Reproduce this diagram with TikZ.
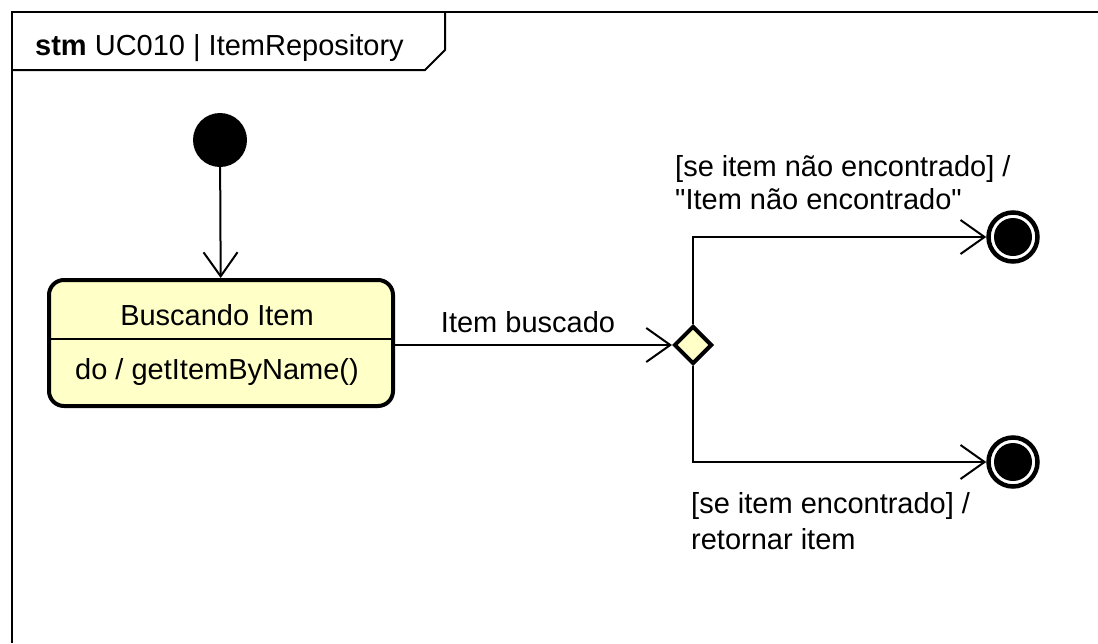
\documentclass[tikz,border=0pt]{standalone}
\usepackage{fontspec}
\setmainfont{Liberation Sans}[Ligatures=TeXOff]
\usetikzlibrary{arrows.meta,shapes.geometric}
\definecolor{stfill}{RGB}{255,255,200}
\begin{document}
\begin{tikzpicture}[x=1pt,y=-1pt,
  lbl/.style={font=\fontsize{29}{35}\selectfont, inner sep=0pt},
  conn/.style={line width=2pt, -{Straight Barb[length=24pt,width=34pt,line width=2pt]}},
  framebox/.style={line width=2pt},
  statebox/.style={draw, line width=4pt, rounded corners=15pt, fill=stfill, minimum width=344pt, minimum height=126pt, inner sep=0pt},
  initstate/.style={circle, fill=black, minimum size=54pt, inner sep=0pt},
  finalstate/.style={circle, draw, line width=4.5pt, fill=white, minimum size=49pt, inner sep=0pt,
     path picture={\fill[black] (path picture bounding box.center) circle (19pt);}},
  decision/.style={diamond, draw, line width=4pt, fill=stfill, minimum width=38pt, minimum height=38pt, inner sep=0pt}]
\useasboundingbox (0,0) rectangle (1098,643);
\fill[white] (0,0) rectangle (1098,643);
% frame
\coordinate (fbl) at (12,643);
\coordinate (ftl) at (12,12);
\coordinate (ftr) at (1098,12);
\draw[framebox] (fbl) -- (ftl) -- (ftr);
\coordinate (tabA) at (12,70);
\coordinate (tabB) at (425,70);
\coordinate (tabC) at (445,50);
\coordinate (tabD) at (445,12);
\draw[framebox] (tabA) -- (tabB) -- (tabC) -- (tabD);
\node[lbl, anchor=base west] (title) at (35,55) {\textbf{stm} UC010 | ItemRepository};
% nodes
\node[initstate] (init) at (220,140) {};
\node[statebox] (st) at (221,343) {};
\coordinate (dv) at (221,339);
\draw[line width=2pt] (dv -| st.west) -- (dv -| st.east);
\node[lbl, anchor=base] (stname) at (217,325) {Buscando Item};
\node[lbl, anchor=base] (stdo) at (217,379) {do / getItemByName()};
\node[decision] (dec) at (693,345) {};
\node[finalstate] (fin1) at (1013,237) {};
\node[finalstate] (fin2) at (1013,462) {};
% connectors
\draw[conn] (init) -- (st);
\draw[conn] (st.east |- dec) -- (dec);
\draw[conn] (dec.north) |- (fin1);
\draw[conn] (dec.south) |- (fin2);
% labels
\node[lbl, anchor=base] (lblbusc) at (528,332) {Item buscado};
\node[lbl, anchor=base west] (lblno1) at (675,176) {[se item não encontrado] /};
\node[lbl, anchor=base west] (lblno2) at (675,209) {"Item não encontrado"};
\node[lbl, anchor=base west] (lblyes1) at (691,513) {[se item encontrado] /};
\node[lbl, anchor=base west] (lblyes2) at (691,549) {retornar item};
\end{tikzpicture}
\end{document}
